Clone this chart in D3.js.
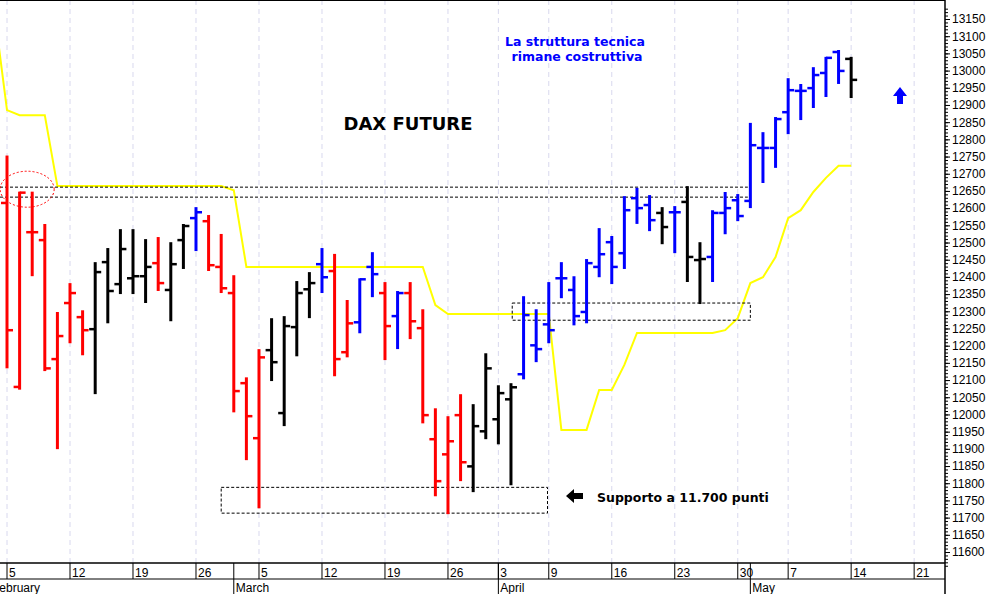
<!DOCTYPE html>
<html lang="en">
<head>
<meta charset="UTF-8">
<script src="https://d3js.org/d3.v7.min.js"></script>
<style>
  body { margin: 0; background: #fff; }
  text { font-family: "Liberation Sans", Arial, sans-serif; }
  .note { font-family: "DejaVu Sans", Verdana, sans-serif; font-weight: bold; }
</style>
</head>
<body>
<div id="chart"></div>
<script>
// OHLC per trading day, index 0 = Feb 5
const opens  = [12615,12080,12530,12507,12161,12324,12283,12248,12443,12379,12396,12402,12440,12362,12507,12571,12562,12429,12353,12091,
                11931,12187,12004,12254,12364,12437,12417,12181,12268,12429,12353,12286,12353,12251,11928,11884,11998,11849,11951,11986,
                12044,12117,12201,12262,12396,12362,12298,12429,12501,12469,12629,12609,12586,12588,12618,12449,12458,12586,12623,12621,
                12775,12775,12879,12941,12949,12993,13054,13034];
const highs  = [12750,12645,12645,12551,12295,12379,12300,12440,12481,12536,12536,12507,12513,12498,12551,12600,12577,12522,12402,12105,
                12187,12277,12283,12385,12411,12481,12464,12330,12393,12469,12382,12356,12382,12303,12015,11992,12056,12027,12175,12082,
                12088,12341,12303,12382,12440,12399,12449,12539,12516,12632,12656,12635,12600,12603,12661,12498,12591,12644,12638,12845,
                12818,12862,12975,12958,13007,13037,13057,13037];
const lows   = [12137,12075,12405,12129,11902,12210,12175,12062,12268,12353,12353,12327,12362,12274,12426,12478,12420,12356,12009,11870,
                11730,12100,11969,12172,12283,12356,12114,12169,12239,12344,12161,12193,12222,11977,11765,11713,11809,11777,11931,11916,
                11797,12105,12155,12210,12341,12262,12268,12402,12382,12426,12557,12536,12498,12472,12388,12324,12388,12527,12565,12603,
                12676,12720,12818,12859,12894,12926,12964,12923];
const closes = [12245,12645,12530,12134,12228,12353,12245,12414,12359,12481,12402,12429,12382,12437,12548,12588,12434,12367,12068,11995,
                12166,12152,12257,12353,12382,12399,12161,12265,12393,12408,12257,12353,12271,11998,11806,11922,11861,11966,12134,12062,
                12079,12289,12190,12245,12396,12286,12440,12466,12429,12594,12600,12565,12545,12588,12458,12452,12586,12600,12577,12783,
                12775,12859,12943,12941,12987,13037,12999,12973];
const barColors = "rrrrrrrkkkkkrkkbrrrrrkkkkbrrbbrbrrrrrkkkkbbbbbbbbbbbkbkkbbbbbbbbbbbk";
const colorMap = { r: "#ff0000", k: "#000000", b: "#0000ff" };

// yellow stop line, index -1 .. 67
const stopLine = [13170,12885,12870,12870,12870,12664,12664,12664,12664,12664,12664,12664,12664,12664,12664,12664,12664,12664,12664,12652,
                  12429,12429,12429,12429,12429,12429,12429,12429,12429,12429,12429,12429,12429,12429,12429,12318,12292,12292,12292,12292,
                  12292,12292,12292,12292,12292,11955,11955,11955,12071,12071,12144,12237,12237,12237,12237,12237,12237,12237,12245,12280,
                  12382,12399,12458,12571,12594,12647,12688,12723,12723];

const weekIdx    = [0,5,10,15,20,25,30,35,39,43,48,53,58,62,67,72];
const weekLabels = ["5","12","19","26","5","12","19","26","3","9","16","23","30","7","14","21"];
const monthIdx    = [18,39,59];
const monthLabels = ["March","April","May"];

const W = 994, H = 594, plotR = 945, plotB = 563;
const svg = d3.select("#chart").append("svg").attr("width", W).attr("height", H);

const x = d3.scaleLinear().domain([-0.556, 74.29]).range([0, 943]);
const y = d3.scaleLinear().domain([11600, 13150]).range([552, 19]);

svg.append("defs").append("clipPath").attr("id", "clip")
  .append("rect").attr("x", 0).attr("y", 1).attr("width", plotR).attr("height", plotB - 1);
const plot = svg.append("g").attr("clip-path", "url(#clip)");

// weekly grid
plot.selectAll(".grid").data(weekIdx).enter().append("line")
  .attr("x1", d => x(d)).attr("x2", d => x(d)).attr("y1", 0).attr("y2", plotB)
  .attr("stroke", "#d8d8ee").attr("stroke-dasharray", "5,4");

// yellow line
plot.append("path").datum(stopLine)
  .attr("d", d3.line().x((d, i) => x(i - 1)).y(d => y(d)))
  .attr("fill", "none").attr("stroke", "#ffff00").attr("stroke-width", 2);

// dashed annotations
const dash = { fill: "none", stroke: "#000", "stroke-dasharray": "3,2", "stroke-width": 1 };
function applyDash(sel) { Object.entries(dash).forEach(([k, v]) => sel.attr(k, v)); return sel; }
[12661, 12632].forEach(v => applyDash(plot.append("line")
  .attr("x1", 0).attr("x2", x(58.8)).attr("y1", y(v)).attr("y2", y(v))));
applyDash(plot.append("rect").attr("x", x(40.1)).attr("y", y(12324))
  .attr("width", x(59) - x(40.1)).attr("height", y(12274) - y(12324)));
applyDash(plot.append("rect").attr("x", x(17)).attr("y", y(11788))
  .attr("width", x(42.9) - x(17)).attr("height", y(11713) - y(11788)));
plot.append("ellipse").attr("cx", x(1.6)).attr("cy", y(12655)).attr("rx", 27).attr("ry", 18)
  .attr("fill", "none").attr("stroke", "#ff0000").attr("stroke-dasharray", "2,2");

// OHLC bars
const bars = plot.selectAll(".bar").data(opens).enter().append("g")
  .attr("stroke", (d, i) => colorMap[barColors[i]]).attr("stroke-width", 3);
bars.append("line").attr("x1", (d, i) => x(i)).attr("x2", (d, i) => x(i))
  .attr("y1", (d, i) => y(highs[i]) - 1).attr("y2", (d, i) => y(lows[i]) + 1);
bars.append("line").attr("x1", (d, i) => x(i) - 6).attr("x2", (d, i) => x(i))
  .attr("y1", d => y(d)).attr("y2", d => y(d)).attr("stroke-width", 2.5);
bars.append("line").attr("x1", (d, i) => x(i)).attr("x2", (d, i) => x(i) + 6)
  .attr("y1", (d, i) => y(closes[i])).attr("y2", (d, i) => y(closes[i])).attr("stroke-width", 2.5);

// frame
svg.append("line").attr("x1", 0).attr("x2", plotR).attr("y1", 0.5).attr("y2", 0.5).attr("stroke", "#000");
svg.append("line").attr("x1", plotR).attr("x2", plotR).attr("y1", 0).attr("y2", H).attr("stroke", "#000").attr("stroke-width", 1.5);

// right axis
const yAxis = svg.append("g").attr("transform", `translate(${plotR},0)`)
  .call(d3.axisRight(y).tickValues(d3.range(11600, 13151, 50)).tickFormat(d3.format("d")).tickSize(5));
yAxis.select(".domain").remove();
yAxis.selectAll("text").attr("font-size", 12).attr("x", 7).attr("fill", "#000");
svg.append("g").attr("transform", `translate(${plotR},0)`)
  .call(d3.axisRight(y).tickValues(d3.range(11560, 13190, 10)).tickFormat("").tickSize(3))
  .select(".domain").remove();

// bottom axis
svg.append("line").attr("x1", 0).attr("x2", plotR).attr("y1", plotB).attr("y2", plotB).attr("stroke", "#000").attr("stroke-width", 1.5);
svg.append("line").attr("x1", 0).attr("x2", plotR).attr("y1", 579).attr("y2", 579).attr("stroke", "#000");
weekIdx.forEach((d, i) => {
  svg.append("line").attr("x1", x(d)).attr("x2", x(d)).attr("y1", plotB).attr("y2", 579).attr("stroke", "#000");
  svg.append("text").attr("x", x(d) + 2).attr("y", 577).attr("font-size", 12).text(weekLabels[i]);
});
monthIdx.forEach((d, i) => {
  svg.append("line").attr("x1", x(d)).attr("x2", x(d)).attr("y1", plotB).attr("y2", H).attr("stroke", "#000");
  svg.append("text").attr("x", x(d) + 2).attr("y", 592).attr("font-size", 12).text(monthLabels[i]);
});
// month label that starts before the visible range (cut at the left edge as in the original)
svg.append("text").attr("x", -8).attr("y", 592).attr("font-size", 12).text("February");

// annotations
svg.append("text").attr("class", "note").attr("x", 408).attr("y", 130).attr("text-anchor", "middle")
  .attr("font-size", 18).text("DAX FUTURE");
svg.append("text").attr("class", "note").attr("x", 575).attr("y", 46).attr("text-anchor", "middle")
  .attr("font-size", 12.5).attr("fill", "#0000ff").text("La struttura tecnica");
svg.append("text").attr("class", "note").attr("x", 577).attr("y", 61).attr("text-anchor", "middle")
  .attr("font-size", 12.5).attr("fill", "#0000ff").text("rimane costruttiva");
svg.append("text").attr("class", "note").attr("x", 597).attr("y", 502)
  .attr("font-size", 12.5).text("Supporto a 11.700 punti");
svg.append("path").attr("d", "M566,496 L574,489 L574,493 L583,493 L583,499 L574,499 L574,503 Z").attr("fill", "#000");
svg.append("path").attr("d", "M900,87 L907,96 L903,96 L903,104 L897,104 L897,96 L893,96 Z").attr("fill", "#0000ff");
</script>
</body>
</html>
